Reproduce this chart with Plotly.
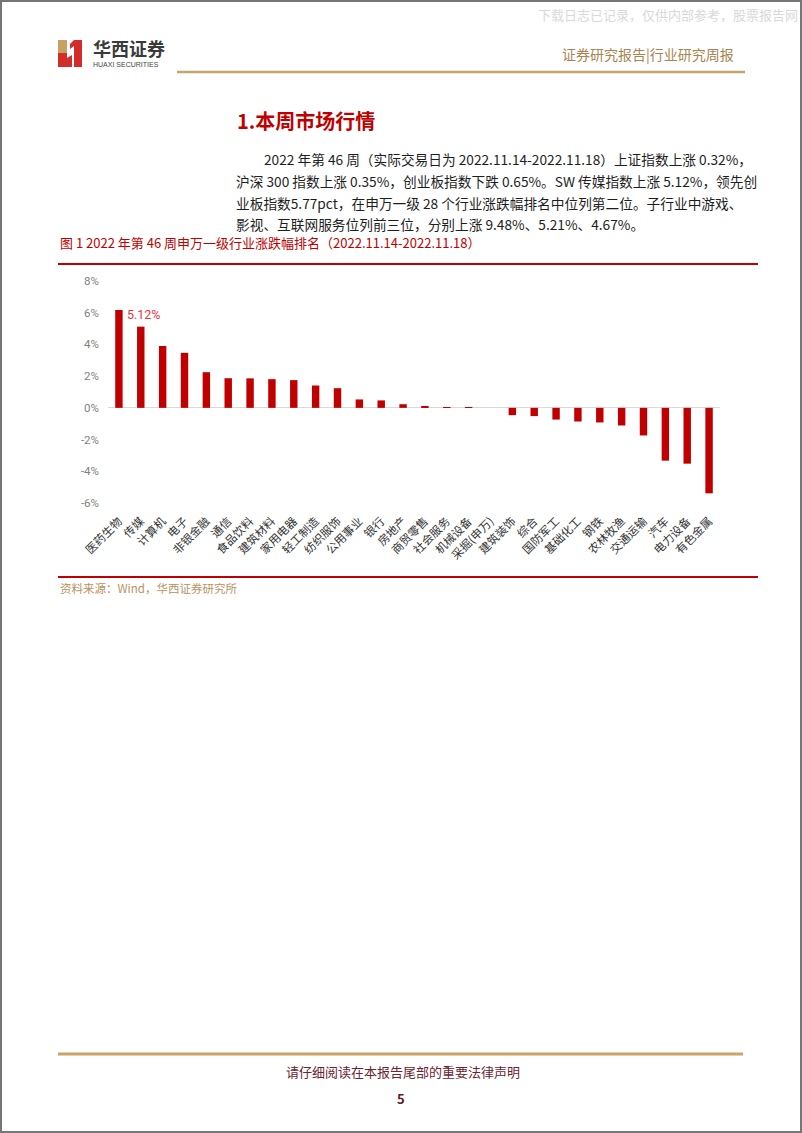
import plotly.graph_objects as go

# ---------------- data ----------------
industries = ["医药生物", "传媒", "计算机", "电子", "非银金融", "通信", "食品饮料", "建筑材料",
              "家用电器", "轻工制造", "纺织服饰", "公用事业", "银行", "房地产", "商贸零售",
              "社会服务", "机械设备", "采掘(申万)", "建筑装饰", "综合", "国防军工", "基础化工",
              "钢铁", "农林牧渔", "交通运输", "汽车", "电力设备", "有色金属"]
changes = [6.17, 5.12, 3.90, 3.47, 2.25, 1.87, 1.86, 1.81, 1.75, 1.41, 1.24, 0.53, 0.47, 0.23,
           0.09, 0.04, 0.04, 0.00, -0.46, -0.52, -0.74, -0.86, -0.92, -1.11, -1.74, -3.33,
           -3.52, -5.39]
y_ticks = [-6, -4, -2, 0, 2, 4, 6, 8]
y_tick_labels = ["-6%", "-4%", "-2%", "0%", "2%", "4%", "6%", "8%"]
highlight_cat = "传媒"
highlight_label = "5.12%"

# ---------------- layout geometry ----------------
W, H = 802, 1133
ML, MR, MT, MB = 108, 82, 281, 630
PW = W - ML - MR
PH = H - MT - MB


def px(x):
    return (x - ML) / PW


def py(y):
    return (H - MB - y) / PH


CJK = "Noto Sans CJK SC"
NARROW = "Liberation Sans Narrow, Arial Narrow, Roboto, Liberation Sans, sans-serif"
RED = "#C00000"
GOLD = "#C9A46A"

fig = go.Figure()
fig.add_trace(go.Bar(x=industries, y=changes, marker=dict(color=RED, line=dict(width=0)),
                     hoverinfo="x+y"))

shapes = []
annotations = []


def hline(y, x0, x1, color, width):
    shapes.append(dict(type="line", xref="paper", yref="paper", x0=px(x0), x1=px(x1),
                       y0=py(y), y1=py(y), line=dict(color=color, width=width), layer="above"))


def text(t, x, y, size, color, xanchor="left", family=CJK, bold=False):
    if bold:
        t = "<b>" + t + "</b>"
    annotations.append(dict(text=t, xref="paper", yref="paper", x=px(x), y=py(y),
                            xanchor=xanchor, yanchor="middle", showarrow=False,
                            font=dict(size=size, color=color, family=family)))


# page border
shapes.append(dict(type="rect", xref="paper", yref="paper", x0=px(1), x1=px(801),
                   y0=py(1), y1=py(1132), line=dict(color="#767676", width=2)))

# watermark
text("下载日志已记录，仅供内部参考，股票报告网", 536, 15, 13, "#D9D9D9")


# logo
def poly(points, color):
    path = "M " + " L ".join(f"{px(a)},{py(b)}" for a, b in points) + " Z"
    shapes.append(dict(type="path", xref="paper", yref="paper", path=path,
                       fillcolor=color, line=dict(width=0)))


poly([(58, 40), (67, 40), (67, 53), (58, 53)], "#C8A063")
poly([(58, 53), (67, 53), (67, 58), (72, 55), (72, 67), (58, 67)], "#D42B2B")
poly([(74, 40), (82, 40), (82, 67), (74, 67), (74, 46), (70, 49), (70, 44)], "#D42B2B")
text("华西证券", 91, 48, 18, "#3A3A3A", bold=True)
text("HUAXI SECURITIES", 91, 64.5, 7, "#444444", family="Liberation Sans, sans-serif")

# header right
text("证券研究报告|行业研究周报", 560, 54, 14, "#A9844F")
hline(72, 177, 745, GOLD, 2.5)

# section title
text("1.本周市场行情", 235, 120, 20, RED, bold=True)

para = [
    ("2022 年第 46 周（实际交易日为 2022.11.14-2022.11.18）上证指数上涨 0.32%，", 262, 159),
    ("沪深 300 指数上涨 0.35%，创业板指数下跌 0.65%。SW 传媒指数上涨 5.12%，领先创", 234, 181),
    ("业板指数5.77pct，在申万一级 28 个行业涨跌幅排名中位列第二位。子行业中游戏、", 234, 203),
    ("影视、互联网服务位列前三位，分别上涨 9.48%、5.21%、4.67%。", 234, 224),
]
for t, x, y in para:
    text(t, x, y, 13.7, "#1E1E1E")

# figure caption
text("图 1 2022 年第 46 周申万一级行业涨跌幅排名（2022.11.14-2022.11.18）", 58, 242, 13, RED)
hline(264, 58, 758, RED, 2)

# source
hline(577, 58, 758, RED, 2)
text("资料来源：Wind，华西证券研究所", 58, 588, 11.5, "#B8935F")

# footer
hline(1054, 58, 743, GOLD, 3)
text("请仔细阅读在本报告尾部的重要法律声明", 403, 1071, 13, "#6B2430", xanchor="center")
text("5", 401, 1098, 13, "#5A1A22", xanchor="center", bold=True)

# data label
annotations.append(dict(text=highlight_label, x=highlight_cat,
                        y=changes[industries.index(highlight_cat)],
                        xref="x", yref="y", xanchor="center", yanchor="bottom", yshift=3,
                        xshift=3, showarrow=False,
                        font=dict(size=12.5, color="#E8363F", family=NARROW)))

fig.update_layout(
    width=W, height=H,
    margin=dict(l=ML, r=MR, t=MT, b=MB, pad=0),
    paper_bgcolor="white", plot_bgcolor="white",
    showlegend=False, bargap=0.66,
    shapes=shapes, annotations=annotations,
    xaxis=dict(type="category", tickangle=-45, showline=False, showgrid=False, zeroline=False,
               ticks="outside", ticklen=6, tickcolor="rgba(0,0,0,0)",
               tickfont=dict(family=CJK, size=11.5, color="#333333"), fixedrange=True),
    yaxis=dict(range=[-6, 8], tickvals=y_ticks, ticktext=y_tick_labels, showgrid=False,
               showline=False, zeroline=True, zerolinecolor="#D9D9D9", zerolinewidth=1,
               ticks="", ticklabelstandoff=8,
               tickfont=dict(family=NARROW, size=11.5, color="#7F7F7F"), fixedrange=True),
)

fig.write_html("out.html")
